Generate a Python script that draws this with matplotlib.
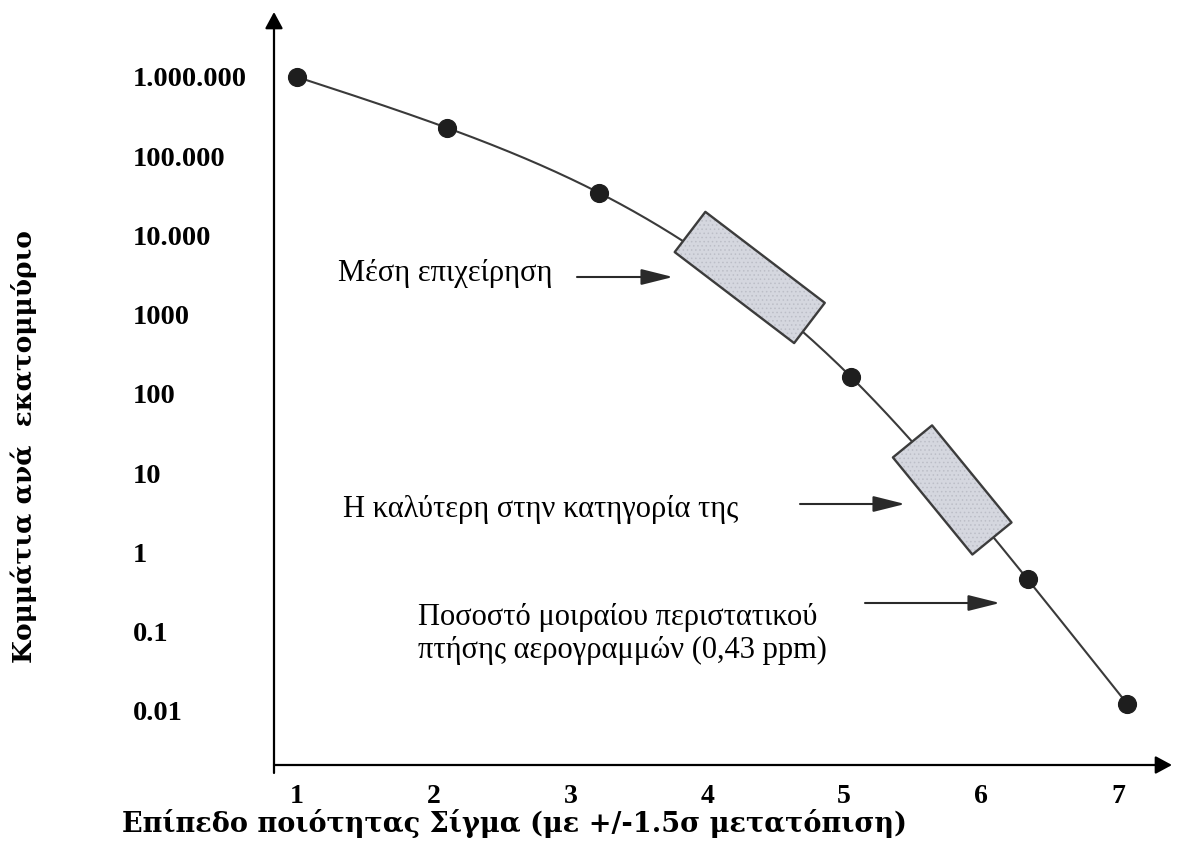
import numpy as np
import matplotlib
matplotlib.use("Agg")
import matplotlib.pyplot as plt
from matplotlib.patches import Polygon

# ---- data ----
sigma_level = [1.0, 2.10, 3.21, 5.05, 6.34, 7.07]
defects_ppm = [1_000_000, 227_000, 34_400, 164, 0.46, 0.0122]

ytick_values = [1e6, 1e5, 1e4, 1e3, 1e2, 1e1, 1, 0.1, 0.01]
ytick_labels = ["1.000.000", "100.000", "10.000", "1000", "100", "10", "1", "0.1", "0.01"]
xtick_values = [1, 2, 3, 4, 5, 6, 7]
xtick_labels = ["1", "2", "3", "4", "5", "6", "7"]

# ranges covered by the two shaded boxes (sigma from/to, ppm from/to)
box_names = ["Μέση επιχείρηση", "Η καλύτερη στην κατηγορία της"]
box_sigma = [(3.873, 4.746), (5.499, 6.080)]
box_ppm = [(11070, 787), (25.2, 1.5)]

airline_label = "Ποσοστό μοιραίου περιστατικού\nπτήσης αερογραμμών (0,43 ppm)"

# ---- figure ----
W, H = 1189, 859
fig = plt.figure(figsize=(W / 100, H / 100), dpi=100)
ax = fig.add_axes([274 / W, 1 - 765 / H, (1172 - 274) / W, (765 - 12) / H])
ax.set_yscale("log")
ax.set_xlim(0.832, 7.396)
ax.set_ylim(10 ** -2.682, 10 ** 6.82)
for s in ax.spines.values():
    s.set_visible(False)

serif = ["Liberation Serif", "DejaVu Serif"]
wide_serif = ["DejaVu Serif"]

# axes with arrows
axis_arrow = dict(arrowstyle="-|>,head_length=0.5,head_width=0.27", color="black",
                  lw=1.6, mutation_scale=20, shrinkA=0, shrinkB=0)
ax.annotate("", xy=(1, 0), xytext=(0, 0), xycoords="axes fraction", arrowprops=axis_arrow)
ax.annotate("", xy=(0, 1), xytext=(0, -0.0106), xycoords="axes fraction", arrowprops=axis_arrow)

# ticks
ax.set_yticks(ytick_values)
ax.set_yticklabels(ytick_labels, fontfamily=serif, fontweight="bold", fontsize=20.5)
ax.yaxis.set_minor_locator(matplotlib.ticker.NullLocator())
for lab in ax.get_yticklabels():
    lab.set_horizontalalignment("left")
ax.tick_params(axis="y", length=0, pad=101.5)
ax.set_xticks(xtick_values)
ax.set_xticklabels(xtick_labels, fontfamily=serif, fontweight="bold", fontsize=20)
ax.tick_params(axis="x", length=0, pad=14)

# smooth curve through the points (natural cubic spline in log space)
xs = np.array(sigma_level)
ls = np.log10(np.array(defects_ppm))
n = len(xs)
h = np.diff(xs)
A = np.zeros((n, n)); b = np.zeros(n)
A[0, 0] = A[-1, -1] = 1
for i in range(1, n - 1):
    A[i, i - 1] = h[i - 1]; A[i, i] = 2 * (h[i - 1] + h[i]); A[i, i + 1] = h[i]
    b[i] = 3 * ((ls[i + 1] - ls[i]) / h[i] - (ls[i] - ls[i - 1]) / h[i - 1])
c = np.linalg.solve(A, b)
xx, yy = [], []
for i in range(n - 1):
    t = np.linspace(0, h[i], 60)
    bb = (ls[i + 1] - ls[i]) / h[i] - h[i] * (2 * c[i] + c[i + 1]) / 3
    d = (c[i + 1] - c[i]) / (3 * h[i])
    xx.append(xs[i] + t)
    yy.append(ls[i] + bb * t + c[i] * t ** 2 + d * t ** 3)
xx = np.concatenate(xx); yy = 10 ** np.concatenate(yy)
ax.plot(xx, yy, color="#3a3a3a", lw=1.5, zorder=2, clip_on=False)
ax.plot(sigma_level, defects_ppm, "o", color="#1e1e1e", ms=12.8, zorder=4, clip_on=False)

# shaded rotated boxes
fig.canvas.draw()
half_w = 25.3  # pixels
matplotlib.rcParams["hatch.linewidth"] = 0.6
for (s0, s1), (p0, p1) in zip(box_sigma, box_ppm):
    a = ax.transData.transform((s0, p0))
    e = ax.transData.transform((s1, p1))
    v = e - a
    v = v / np.hypot(*v)
    perp = np.array([-v[1], v[0]]) * half_w
    corners_disp = np.array([a + perp, e + perp, e - perp, a - perp])
    corners = ax.transData.inverted().transform(corners_disp)
    ax.add_patch(Polygon(corners, closed=True, facecolor="#d5d7df", edgecolor="#bcbec7",
                         lw=0, zorder=3, hatch="...."))
    ax.add_patch(Polygon(corners, closed=True, fill=False, edgecolor="#3c3c3c",
                         lw=1.7, zorder=3.1, joinstyle="round"))

# annotations (text + arrows) in figure pixels
def fpx(x, y):
    return (x / W, 1 - y / H)

arrow_kw = dict(arrowstyle="-|>,head_length=1.4,head_width=0.35", color="#2a2a2a",
                lw=1.5, mutation_scale=14, shrinkA=0, shrinkB=0)
fig.text(*fpx(338, 274), box_names[0], fontfamily=serif, fontsize=22,
         ha="left", va="center")
ax.annotate("", xy=fpx(673, 277), xytext=fpx(577, 277), xycoords="figure fraction",
            arrowprops=arrow_kw)
fig.text(*fpx(343, 509), box_names[1], fontfamily=serif, fontsize=22,
         ha="left", va="center")
ax.annotate("", xy=fpx(905, 504), xytext=fpx(800, 504), xycoords="figure fraction",
            arrowprops=arrow_kw)
fig.text(*fpx(418, 634), airline_label, fontfamily=serif, fontsize=22,
         ha="left", va="center", linespacing=1.2)
ax.annotate("", xy=fpx(1000, 603), xytext=fpx(865, 603), xycoords="figure fraction",
            arrowprops=arrow_kw)

# axis titles
fig.text(*fpx(514, 823), "Επίπεδο ποιότητας Σίγμα (με +/-1.5σ μετατόπιση)",
         fontfamily=wide_serif, fontweight="bold", fontsize=19.5, ha="center", va="center")
fig.text(*fpx(24, 447), "Κομμάτια ανά  εκατομμύριο", fontfamily=wide_serif,
         fontweight="bold", fontsize=19, rotation=90, ha="center", va="center")

fig.savefig("out.png", dpi=100, facecolor="white")
